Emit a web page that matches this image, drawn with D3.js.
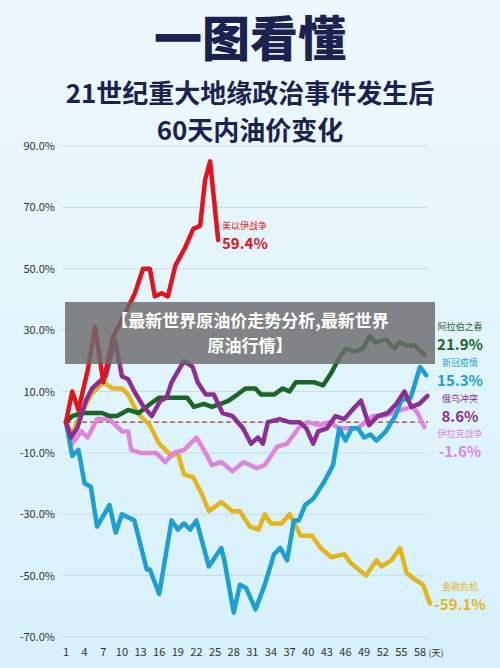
<!DOCTYPE html>
<html><head><meta charset="utf-8">
<script src="https://cdn.jsdelivr.net/npm/d3@7"></script>
<style>body{margin:0;background:#dcf2fa;font-family:"Noto Sans CJK SC","Noto Sans",sans-serif;}</style>
</head><body>
<script>
// 数据：每条线的天数与涨跌幅(%)
const yTicks = [90, 70, 50, 30, 10, -10, -30, -50, -70];
const xTicks = [1,4,7,10,13,16,19,22,25,28,31,34,37,40,43,46,49,52,55,58];

const redDays = [1,2,3,4.5,5.7,7,8.6,9.4,12.1,13.4,14.5,15.3,16.4,17.4,18.6,20.2,21.5,22.6,23.4,24.2,25.5];
const redVals = [0,10,4,17,31,13,28,31,42,50,50,41,42,41,51,57,63,64,79,85,59.4];

const greenDays = [1,2,3.6,5.2,6.8,8.1,9.2,11,12.7,14.6,16,17.6,19.2,20.5,21.6,23.2,24.5,25.9,27.2,28.6,29.9,31.5,32.4,34.5,35.9,37,38,39.7,41,42.4,43.7,45,46.1,47.5,48.8,49.9,50.9,52.5,53.9,54.7,55.8,57.1,58.7];
const greenVals = [0,2,3,3,3,2,2,4,3,6,8,8,8,8,5,6,5,6,7,9,11,11,9,9,11,10,13,13,13,12,16,21,24,23,24,28,26,27,24,26,25,25,21.9];

const blueDays = [1,2,3,4,5,6,8,9,10,12,14,14.5,16,18,19,20,21,22,24,26,26.5,28,29,30,31.5,33,34.5,35.5,36.6,37.7,38.5,39.5,40.8,42.4,44,45,46,47,48,49,50,51,52.5,54,55,56.5,58,59];
const blueVals = [0,-11,-9,-20,-21,-34,-27,-36,-30,-32,-48,-48,-56,-32,-35,-33,-35,-32,-47,-41,-45,-62,-53,-54,-61,-53,-43,-41,-45,-32,-32,-27,-25,-20,-14,-2,-6,-2,-2,-5,-4,-6,-3,2,7,8,18,15.3];

const purpleDays = [1,1.8,2.8,4.2,5.2,6.3,7.4,8.9,10,11,12,13.5,14.8,16.2,17.2,18,20,21.4,22.2,23.5,24.8,26.2,27.8,29.5,30.8,31.9,32.7,33.5,35.4,37,38.6,39.7,40.8,41.6,43,44.4,45.8,47.1,48.5,49.8,51.2,52.8,54.2,55.5,56.6,57.9,59.2];
const purpleVals = [0,-5,-2,7,11,13,15,27,15,14,10,5,2,7,8,13,20,18,13,9,9,3,2,-2,-7,-5,-7,0,1,0,0,-2,-7,-3,-2,2,1,4,7,-1,2,3,6,10,5,6,8.6];

const pinkDays = [1,2,3.5,4.5,6,8,10,11,11.5,13,14.5,15.5,17,18.3,20,22,23.2,24.5,26,27.8,29.6,31.7,33,35,36.6,38.8,40,41.8,43.4,45,46.5,48,50.4,52,53.6,55,56.8,57.6,58.7];
const pinkVals = [0,-7,-3,-5,1,1,-3,-3,-9,-10,-10,-10,-13,-10,-9,-5,-9,-14,-13,-16,-13,-15,-14,-8,-7,-1,0,-1,0,-2,-2,-2,2,2,3,4,5,3,-1.6];

const yellowDays = [1,2,3,5,7,8.5,10,11,12.5,14.5,16,18,19,20,21.5,23,24,26,27.8,29,30.6,32,33,34,35.7,37,38.8,40.6,42,43.7,45.8,46.9,49.3,51,51.8,53.4,54.8,55.8,57,58.5,59.6];
const yellowVals = [0,-4,1,9,13,11,11,9,3,-1,-7,-11,-10,-17,-18,-24,-29,-26,-29,-29,-34,-35,-30,-33,-33,-30,-37,-37,-41,-44,-43,-46,-50,-45,-47,-45,-41,-49,-51,-53,-59.1];

const series = [
  {name:"金融危机", days:yellowDays, vals:yellowVals, color:"#e2b61f"},
  {name:"伊拉克战争", days:pinkDays, vals:pinkVals, color:"#de86dc"},
  {name:"新冠疫情", days:blueDays, vals:blueVals, color:"#1e9fd1"},
  {name:"阿拉伯之春", days:greenDays, vals:greenVals, color:"#1d6526"},
  {name:"俄乌冲突", days:purpleDays, vals:purpleVals, color:"#8b2f93"},
  {name:"美以伊战争", days:redDays, vals:redVals, color:"#e0141b"}
];

const svg = d3.select("body").append("svg").attr("width", 500).attr("height", 668);

const bg = svg.append("defs").append("linearGradient").attr("id","bg").attr("x1",0).attr("y1",0).attr("x2",0).attr("y2",1);
bg.append("stop").attr("offset",0).attr("stop-color","#eef8fc");
bg.append("stop").attr("offset",1).attr("stop-color","#d6f1fb");
svg.append("rect").attr("width",500).attr("height",668).attr("fill","url(#bg)");

// 标题
svg.append("text").attr("x",250).attr("y",56).attr("text-anchor","middle")
  .attr("font-size",48).attr("font-weight",900).attr("fill","#1b2250").text("一图看懂");
svg.append("text").attr("x",250).attr("y",103).attr("text-anchor","middle")
  .attr("font-size",26).attr("font-weight",700).attr("fill","#1b2250").text("21世纪重大地缘政治事件发生后");
svg.append("text").attr("x",250).attr("y",140).attr("text-anchor","middle")
  .attr("font-size",26).attr("font-weight",700).attr("fill","#1b2250").text("60天内油价变化");

const x = d3.scaleLinear().domain([1, 58]).range([66, 420]);
const y = d3.scaleLinear().domain([-70, 90]).range([637, 146]);

// 网格与坐标轴
svg.append("g").selectAll("line").data(yTicks).join("line")
  .attr("x1",62).attr("x2",428).attr("y1",d=>y(d)).attr("y2",d=>y(d))
  .attr("stroke","#c5dde6").attr("stroke-width",1);
svg.append("g").selectAll("text").data(yTicks).join("text")
  .attr("x",55).attr("y",d=>y(d)+4).attr("text-anchor","end")
  .attr("font-size",11).attr("fill","#333").text(d=>d.toFixed(1)+"%");
svg.append("g").selectAll("text").data(xTicks).join("text")
  .attr("x",d=>x(d)).attr("y",656).attr("text-anchor","middle")
  .attr("font-size",11).attr("fill","#333").text(d=>d);
svg.append("text").attr("x",436).attr("y",656).attr("text-anchor","middle")
  .attr("font-size",9).attr("fill","#333").text("(天)");

svg.append("line").attr("x1",66).attr("x2",428).attr("y1",y(0)).attr("y2",y(0))
  .attr("stroke","#b9302c").attr("stroke-width",1.2).attr("stroke-dasharray","5,3");

const line = d3.line().x(d=>x(d[0])).y(d=>y(d[1])).curve(d3.curveLinear);
svg.append("g").selectAll("path").data(series).join("path")
  .attr("d", s => line(s.days.map((d,i)=>[d, s.vals[i]])))
  .attr("fill","none").attr("stroke",s=>s.color).attr("stroke-width",4.5)
  .attr("stroke-linejoin","round").attr("stroke-linecap","round");

// 标签
const labels = [
  {name:"美以伊战争", val:"59.4%", x:222, y:229, color:"#e0141b"},
  {name:"阿拉伯之春", val:"21.9%", x:434, y:330, color:"#1d6526"},
  {name:"新冠疫情", val:"15.3%", x:434, y:366, color:"#1e9fd1"},
  {name:"俄乌冲突", val:"8.6%", x:434, y:402, color:"#8b2f93"},
  {name:"伊拉克战争", val:"-1.6%", x:434, y:437, color:"#de86dc"},
  {name:"金融危机", val:"-59.1%", x:434, y:590, color:"#e2b61f"}
];
labels.forEach(l => {
  const big = l.name === "美以伊战争";
  const tx = big ? l.x : l.x + 26;
  const anchor = big ? "start" : "middle";
  svg.append("text").attr("x",tx).attr("y",l.y).attr("text-anchor",anchor)
    .attr("font-size",9).attr("fill",l.color).text(l.name);
  svg.append("text").attr("x",tx).attr("y",l.y+20).attr("text-anchor",anchor)
    .attr("font-size",15).attr("font-weight",600).attr("fill",l.color).text(l.val);
});

// 覆盖横幅
svg.append("rect").attr("x",65).attr("y",302).attr("width",370).attr("height",62)
  .attr("fill","#6b6b6b").attr("opacity",0.82);
svg.append("text").attr("x",250).attr("y",327).attr("text-anchor","middle")
  .attr("font-size",17).attr("font-weight",700).attr("fill","#fff").text("【最新世界原油价走势分析,最新世界");
svg.append("text").attr("x",250).attr("y",352).attr("text-anchor","middle")
  .attr("font-size",17).attr("font-weight",700).attr("fill","#fff").text("原油行情】");
</script>
</body></html>
